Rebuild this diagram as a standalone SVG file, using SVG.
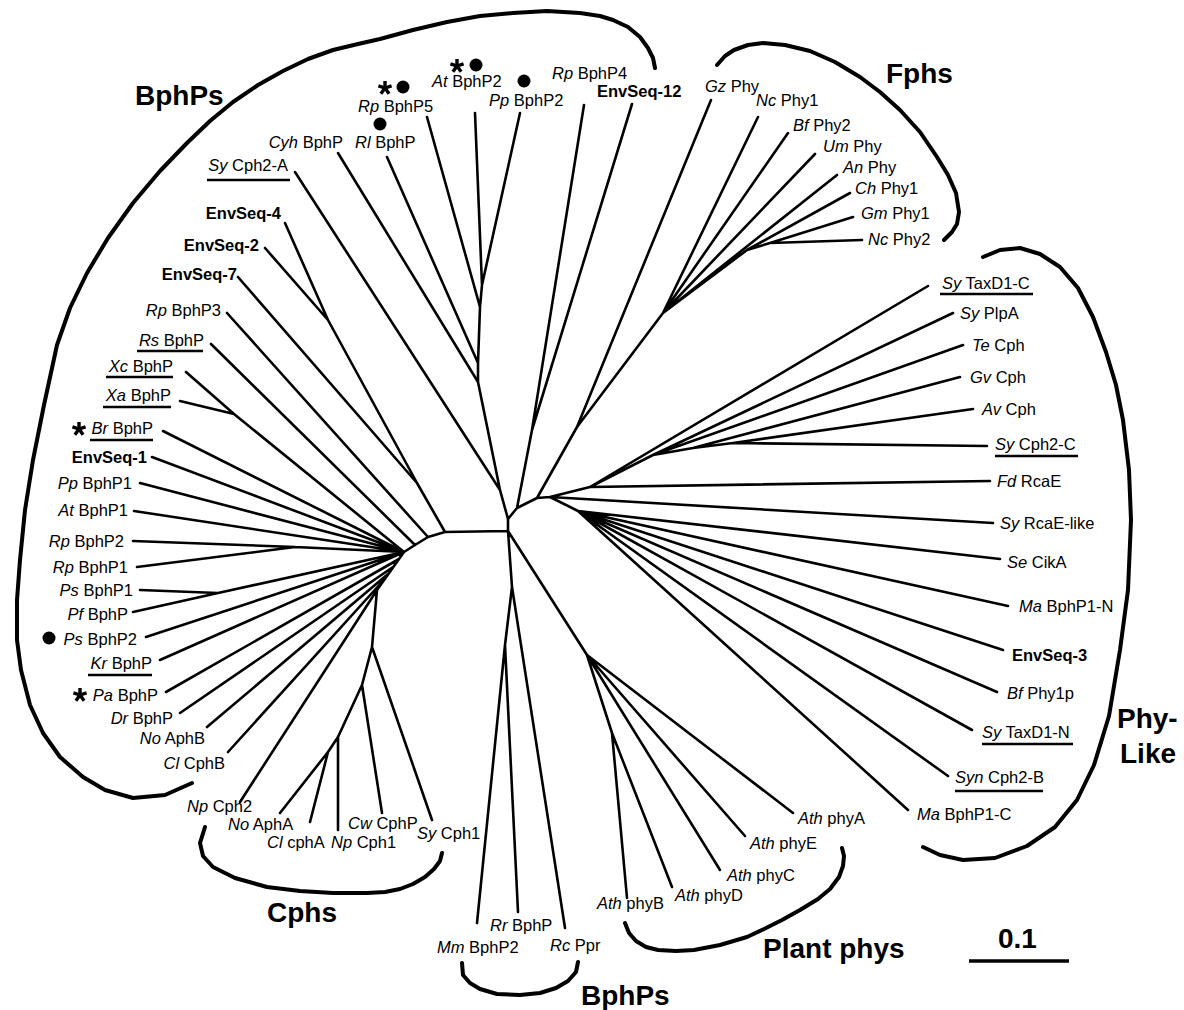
<svg xmlns="http://www.w3.org/2000/svg" xmlns:xlink="http://www.w3.org/1999/xlink" width="1184" height="1010" viewBox="0 0 1184 1010">
<style>
.t{font-family:"Liberation Sans",Arial,sans-serif;font-size:16.5px;fill:#000}
.i{font-style:italic}
.b{font-weight:bold}
.e{text-anchor:end}
.g{font-family:"Liberation Sans",Arial,sans-serif;font-size:28px;font-weight:bold;fill:#000}
.br{fill:none;stroke:#000;stroke-width:2.6;stroke-linecap:round;stroke-linejoin:round}
.cl{fill:none;stroke:#000;stroke-width:4;stroke-linecap:round;stroke-linejoin:round}
.u{stroke:#000;stroke-width:2.6}
</style>
<defs>
<path id="ast" d="M0,0 L0,-7 M0,0 L6.6,-2.2 M0,0 L4.1,5.7 M0,0 L-4.1,5.7 M0,0 L-6.6,-2.2" fill="none" stroke="#000" stroke-width="3.4" stroke-linecap="butt"/>
</defs>
<rect width="1184" height="1010" fill="#fff"/>

<g id="branches">
<path class="br" d="
M500,490 L508,519 M478,382 L500,490 M478,363 L478,382 M480,307 L478,363 M482,285 L480,307
M295,172 L500,490 M338,153 L478,382 M387,157 L478,363 M427,117 L480,307 M475,113 L482,285 M520,113 L482,285
M508,519 L508,531 L512,587 M508,531 L445,532
M445,532 L428,537 L415,545 L404,552 L377,590
M417,483 L445,532 M328,320 L417,483 M285,223 L328,320 M265,248 L328,320 M238,277 L417,483
M227,313 L428,537 M211,344 L415,545
M186,372 L234,414 M180,401 L234,414 M234,414 L404,552
M163,431 L404,552 M152,457 L404,552 M140,483 L404,552 M134,511 L404,552
M133,541 L295,547 M137,567 L295,547 M295,547 L404,552
M140,590 L218,593 M133,612 L218,593 M218,593 L404,552
M146,637 L404,552 M160,660 L404,552
M166,692 L399,559 M180,713 L393,567 M207,727 L388,574 M228,752 L382,582 M240,802 L377,590
M377,590 L372,647 L362,685 M362,685 L382,813 M362,685 L338,737 M338,737 L338,830 M338,737 L328,752
M328,752 L280,813 M328,752 L310,822 M372,647 L432,820
M512,587 L505,645 M505,645 L477,923 M505,645 L518,912 M512,587 L565,928
M508,531 L587,655 M587,655 L612,733 M612,733 L627,898 M612,733 L672,887
M587,655 L720,870 M587,655 L745,836 M587,655 L793,813
M508,519 L517,508 M517,508 L532,430 M532,430 L584,105 M532,430 L632,104
M517,508 L537,498 M537,498 L577,427 M577,427 L711,100 M577,427 L663,313
M663,313 L758,117 M663,313 L788,133 M663,313 L815,154 M663,313 L837,175 M663,313 L747,250
M747,250 L850,193 M747,250 L770,243 M770,243 L853,217 M770,243 L862,240
M537,498 L550,497 M550,497 L590,487 M590,487 L928,286 M590,487 L990,481 M590,487 L653,455
M653,455 L953,313 M653,455 L963,345 M653,455 L693,448 M693,448 L960,377 M693,448 L733,443
M733,443 L973,409 M733,443 L987,446
M550,497 L993,523 M550,497 L578,511
M578,511 L1000,559 M578,511 L1008,606 M578,511 L1003,650 M578,511 L997,692
M578,511 L972,730 M578,511 L948,776 M578,511 L908,810"/>
</g>

<g id="clades">
<polyline class="cl" points="192,783 165,795 133,798 105,790 83,777 60,757 43,733 30,705 21,670 17,640 17,600 20,560 25,510 33,460 44,405 57,345 70,308 87,273 108,238 133,203 160,171 187,143 210,121 233,102 258,85 283,71 308,59 333,50 358,44 380,39 413,30 447,22 480,16 513,13 547,11 580,13 600,16 613,20 628,27 640,37 648,48 653,58 655,68"/>
<polyline class="cl" points="717,65 725,56 734,50 748,45 763,43 785,45 810,51 835,62 860,77 880,92 900,110 920,132 937,157 948,175 956,193 959,212 957,224 952,232 944,240"/>
<polyline class="cl" points="983,257 1000,250 1020,248 1040,254 1060,267 1078,288 1093,317 1106,352 1116,385 1123,420 1129,470 1131,520 1128,590 1120,650 1109,716 1094,765 1077,800 1055,827 1027,846 995,858 963,860 940,855 923,847"/>
<polyline class="cl" points="205,827 200,843 203,856 213,867 235,878 267,887 300,891 333,893 367,893 385,892 400,889 413,884 425,877 434,869 440,861 442,853"/>
<polyline class="cl" points="625,923 629,933 636,941 646,947 658,950 676,951 694,950 720,945 747,937 764,929 782,920 800,910 818,899 830,889 839,877 843,866 844,856 842,848"/>
<polyline class="cl" points="462,963 463,975 470,983 480,989 497,994 520,995 540,993 556,988 568,981 576,972 578,962"/>
<line class="u" x1="969" y1="961" x2="1069" y2="961" style="stroke-width:3.5"/>
<text class="g" x="135" y="105">BphPs</text>
<text class="g" x="886" y="83">Fphs</text>
<text class="g" x="1117" y="728">Phy-</text>
<text class="g" x="1120" y="763">Like</text>
<text class="g" x="763" y="958">Plant phys</text>
<text class="g" x="267" y="922">Cphs</text>
<text class="g" x="581" y="1005">BphPs</text>
<text class="g" x="998" y="948">0.1</text>
</g>

<g id="leaf-RpBphP5"><text class="t" x="358" y="112"><tspan class="i">Rp</tspan> BphP5</text><use xlink:href="#ast" href="#ast" transform="translate(385,88)"/><circle cx="403" cy="87" r="6.5"/></g>
<g id="leaf-RlBphP"><text class="t" x="355" y="148"><tspan class="i">Rl</tspan> BphP</text><circle cx="380" cy="124" r="6.5"/></g>
<g id="leaf-CyhBphP"><text class="t e" x="343" y="148"><tspan class="i">Cyh</tspan> BphP</text></g>
<g id="leaf-SyCph2A"><text class="t e" x="288" y="171"><tspan class="i">Sy</tspan> Cph2-A</text><line class="u" x1="207" y1="180" x2="290" y2="180"/></g>
<g id="leaf-EnvSeq4"><text class="t b e" x="281" y="219">EnvSeq-4</text></g>
<g id="leaf-EnvSeq2"><text class="t b e" x="259" y="251">EnvSeq-2</text></g>
<g id="leaf-EnvSeq7"><text class="t b e" x="237" y="280">EnvSeq-7</text></g>
<g id="leaf-RpBphP3"><text class="t e" x="221" y="316"><tspan class="i">Rp</tspan> BphP3</text></g>
<g id="leaf-RsBphP"><text class="t e" x="204" y="346"><tspan class="i">Rs</tspan> BphP</text><line class="u" x1="137" y1="351" x2="203" y2="351"/></g>
<g id="leaf-XcBphP"><text class="t e" x="173" y="372"><tspan class="i">Xc</tspan> BphP</text><line class="u" x1="106" y1="377" x2="173" y2="377"/></g>
<g id="leaf-XaBphP"><text class="t e" x="171" y="401"><tspan class="i">Xa</tspan> BphP</text><line class="u" x1="103" y1="407" x2="171" y2="407"/></g>
<g id="leaf-BrBphP"><text class="t e" x="153" y="434"><tspan class="i">Br</tspan> BphP</text><line class="u" x1="90" y1="440" x2="153" y2="440"/><use xlink:href="#ast" href="#ast" transform="translate(79,429)"/></g>
<g id="leaf-EnvSeq1"><text class="t b e" x="147" y="463">EnvSeq-1</text></g>
<g id="leaf-PpBphP1"><text class="t e" x="132" y="489"><tspan class="i">Pp</tspan> BphP1</text></g>
<g id="leaf-AtBphP1"><text class="t e" x="128" y="516"><tspan class="i">At</tspan> BphP1</text></g>
<g id="leaf-RpBphP2"><text class="t e" x="124" y="547"><tspan class="i">Rp</tspan> BphP2</text></g>
<g id="leaf-RpBphP1"><text class="t e" x="128" y="573"><tspan class="i">Rp</tspan> BphP1</text></g>
<g id="leaf-PsBphP1"><text class="t e" x="133" y="596"><tspan class="i">Ps</tspan> BphP1</text></g>
<g id="leaf-PfBphP"><text class="t e" x="128" y="620"><tspan class="i">Pf</tspan> BphP</text></g>
<g id="leaf-PsBphP2"><text class="t e" x="137" y="645"><tspan class="i">Ps</tspan> BphP2</text><circle cx="49" cy="638" r="6.5"/></g>
<g id="leaf-KrBphP"><text class="t e" x="152" y="669"><tspan class="i">Kr</tspan> BphP</text><line class="u" x1="88" y1="675" x2="152" y2="675"/></g>
<g id="leaf-PaBphP"><text class="t e" x="158" y="701"><tspan class="i">Pa</tspan> BphP</text><use xlink:href="#ast" href="#ast" transform="translate(80,695)"/></g>
<g id="leaf-DrBphP"><text class="t e" x="173" y="724"><tspan class="i">Dr</tspan> BphP</text></g>
<g id="leaf-NoAphB"><text class="t e" x="205" y="744"><tspan class="i">No</tspan> AphB</text></g>
<g id="leaf-ClCphB"><text class="t e" x="225" y="769"><tspan class="i">Cl</tspan> CphB</text></g>

<g id="leaf-NpCph2"><text class="t" x="187" y="812"><tspan class="i">Np</tspan> Cph2</text></g>
<g id="leaf-NoAphA"><text class="t" x="228" y="830"><tspan class="i">No</tspan> AphA</text></g>
<g id="leaf-ClcphA"><text class="t" x="267" y="848"><tspan class="i">Cl</tspan> cphA</text></g>
<g id="leaf-NpCph1"><text class="t" x="331" y="848"><tspan class="i">Np</tspan> Cph1</text></g>
<g id="leaf-CwCphP"><text class="t" x="348" y="829"><tspan class="i">Cw</tspan> CphP</text></g>
<g id="leaf-SyCph1"><text class="t" x="417" y="839"><tspan class="i">Sy</tspan> Cph1</text></g>

<g id="leaf-MmBphP2"><text class="t" x="437" y="953"><tspan class="i">Mm</tspan> BphP2</text></g>
<g id="leaf-RrBphP"><text class="t" x="490" y="931"><tspan class="i">Rr</tspan> BphP</text></g>
<g id="leaf-RcPpr"><text class="t" x="550" y="951"><tspan class="i">Rc</tspan> Ppr</text></g>

<g id="leaf-AthphyB"><text class="t" x="597" y="909"><tspan class="i">Ath</tspan> phyB</text></g>
<g id="leaf-AthphyD"><text class="t" x="675" y="901"><tspan class="i">Ath</tspan> phyD</text></g>
<g id="leaf-AthphyC"><text class="t" x="727" y="881"><tspan class="i">Ath</tspan> phyC</text></g>
<g id="leaf-AthphyE"><text class="t" x="750" y="849"><tspan class="i">Ath</tspan> phyE</text></g>
<g id="leaf-AthphyA"><text class="t" x="798" y="824"><tspan class="i">Ath</tspan> phyA</text></g>

<g id="leaf-MaBphP1C"><text class="t" x="917" y="820"><tspan class="i">Ma</tspan> BphP1-C</text></g>
<g id="leaf-SynCph2B"><text class="t" x="955" y="783"><tspan class="i">Syn</tspan> Cph2-B</text><line class="u" x1="955" y1="791" x2="1043" y2="791"/></g>
<g id="leaf-SyTaxD1N"><text class="t" x="982" y="738"><tspan class="i">Sy</tspan> TaxD1-N</text><line class="u" x1="982" y1="744" x2="1073" y2="744"/></g>
<g id="leaf-BfPhy1p"><text class="t" x="1007" y="699"><tspan class="i">Bf</tspan> Phy1p</text></g>
<g id="leaf-EnvSeq3"><text class="t b" x="1012" y="661">EnvSeq-3</text></g>
<g id="leaf-MaBphP1N"><text class="t" x="1019" y="612"><tspan class="i">Ma</tspan> BphP1-N</text></g>
<g id="leaf-SeCikA"><text class="t" x="1007" y="568"><tspan class="i">Se</tspan> CikA</text></g>
<g id="leaf-SyRcaElike"><text class="t" x="1000" y="529"><tspan class="i">Sy</tspan> RcaE-like</text></g>
<g id="leaf-FdRcaE"><text class="t" x="997" y="487"><tspan class="i">Fd</tspan> RcaE</text></g>
<g id="leaf-SyCph2C"><text class="t" x="995" y="450"><tspan class="i">Sy</tspan> Cph2-C</text><line class="u" x1="995" y1="456" x2="1078" y2="456"/></g>
<g id="leaf-AvCph"><text class="t" x="982" y="415"><tspan class="i">Av</tspan> Cph</text></g>
<g id="leaf-GvCph"><text class="t" x="970" y="383"><tspan class="i">Gv</tspan> Cph</text></g>
<g id="leaf-TeCph"><text class="t" x="972" y="351"><tspan class="i">Te</tspan> Cph</text></g>
<g id="leaf-SyPlpA"><text class="t" x="960" y="319"><tspan class="i">Sy</tspan> PlpA</text></g>
<g id="leaf-SyTaxD1C"><text class="t" x="942" y="289"><tspan class="i">Sy</tspan> TaxD1-C</text><line class="u" x1="940" y1="294" x2="1033" y2="294"/></g>

<g id="leaf-NcPhy2"><text class="t" x="868" y="245"><tspan class="i">Nc</tspan> Phy2</text></g>
<g id="leaf-GmPhy1"><text class="t" x="861" y="219"><tspan class="i">Gm</tspan> Phy1</text></g>
<g id="leaf-ChPhy1"><text class="t" x="855" y="194"><tspan class="i">Ch</tspan> Phy1</text></g>
<g id="leaf-AnPhy"><text class="t" x="843" y="173"><tspan class="i">An</tspan> Phy</text></g>
<g id="leaf-UmPhy"><text class="t" x="823" y="152"><tspan class="i">Um</tspan> Phy</text></g>
<g id="leaf-BfPhy2"><text class="t" x="793" y="131"><tspan class="i">Bf</tspan> Phy2</text></g>
<g id="leaf-NcPhy1"><text class="t" x="756" y="106"><tspan class="i">Nc</tspan> Phy1</text></g>
<g id="leaf-GzPhy"><text class="t" x="705" y="92"><tspan class="i">Gz</tspan> Phy</text></g>

<g id="leaf-EnvSeq12"><text class="t b" x="597" y="97">EnvSeq-12</text></g>
<g id="leaf-RpBphP4"><text class="t" x="552" y="79"><tspan class="i">Rp</tspan> BphP4</text></g>
<g id="leaf-PpBphP2"><text class="t" x="489" y="106"><tspan class="i">Pp</tspan> BphP2</text><circle cx="524" cy="81" r="6.5"/></g>
<g id="leaf-AtBphP2"><text class="t" x="432" y="87"><tspan class="i">At</tspan> BphP2</text><use xlink:href="#ast" href="#ast" transform="translate(457,66)"/><circle cx="476" cy="65" r="6.5"/></g>
</svg>
